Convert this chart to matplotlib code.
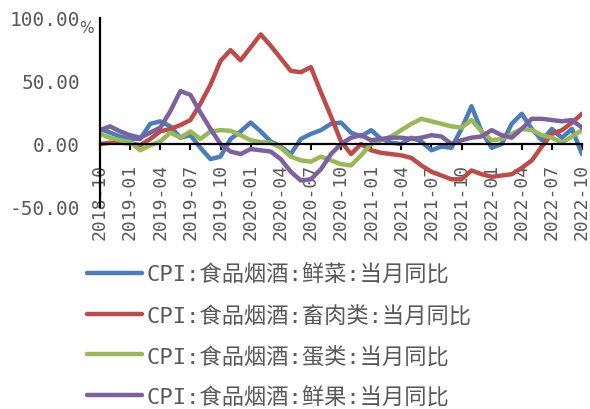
import numpy as np
import pandas as pd
import matplotlib
matplotlib.use("Agg")
import matplotlib.pyplot as plt
from matplotlib.font_manager import FontProperties

# monthly categories 2018-10 .. 2022-10
months = pd.date_range("2018-10-01", "2022-10-01", freq="MS").strftime("%Y-%m").tolist()

# CPI sub-items, year-on-year (%)
veg = [12, 9, 6, 4, 4, 16, 18, 14, 5, 7, -3, -12, -10, 4, 10, 17, 10, 2, -2, -8,
       4, 8, 11, 16, 17, 9, 6, 11, 4, 1, 0, 5, 2, -5, -2, -3, 12, 30, 10, -3,
       0, 16, 24, 12, 3, 12, 5, 12, -8]
meat = [0, 1, 1, 0.5, -1, 4, 10, 12, 15, 19, 32, 47, 66, 74.5, 66.4, 76.7, 87, 78, 68, 58,
        57, 61, 41, 22, 2, -8, 0, -5, -7, -8, -9, -11, -17, -22, -25, -28, -28, -21, -24, -26,
        -25, -24, -19, -13, -2, 8, 11, 17, 24]
eggs = [8, 5, 3, 1.5, -5, -1, 2, 9, 5, 10, 4, 10, 11, 10.5, 7, 3, 1.5, 1, -3, -10,
        -13, -14, -10, -13, -16, -17, -9, 0, 3, 6, 11, 16, 20, 18, 16, 14, 13, 19, 10, 3,
        4, 8, 12, 11, 7, 5, 1, 6, 11]
fruit = [11, 14, 10, 7, 5, 9, 13, 26, 42, 39, 25, 12, 0, -6, -8, -4, -5, -6, -12, -22,
         -29, -28, -20, -8, 0, 5, 7, 3, 4, 5, 5, 4, 5, 7, 6, 0, 3, 5, 6, 11,
         7, 5, 12, 20, 20, 19, 18, 19, 13]

labels = ["CPI:食品烟酒:鲜菜:当月同比",
          "CPI:食品烟酒:畜肉类:当月同比",
          "CPI:食品烟酒:蛋类:当月同比",
          "CPI:食品烟酒:鲜果:当月同比"]
colors = ["#4A7EBB", "#BE4B48", "#98B954", "#7D60A0"]
yticks = [-50, 0, 50, 100]

grey = "#595959"
mono = ["DejaVu Sans Mono"]
cjk_font = FontProperties(family=["DejaVu Sans Mono", "Noto Sans CJK SC"], size=16,
                          weight="light")

fig = plt.figure(figsize=(5.9, 4.1), dpi=100)
ax = fig.add_axes([100 / 590, (410 - 208) / 410, 482 / 590, 189 / 410])

x = np.arange(len(months))
lines = []
for series, c in zip([veg, meat, eggs, fruit], colors):
    ln, = ax.plot(x, series, color=c, lw=3.2, solid_joinstyle="round",
                  solid_capstyle="round")
    lines.append(ln)

ax.set_xlim(0, len(months) - 1)
ax.set_ylim(-50, 100)

for s in ["top", "right"]:
    ax.spines[s].set_visible(False)
ax.spines["bottom"].set_position(("data", 0))
ax.spines["bottom"].set_linewidth(1.6)
ax.spines["left"].set_linewidth(1.6)

ax.set_xticks(x[::3])
ax.set_xticklabels(months[::3], rotation=90)
ax.tick_params(axis="x", direction="out", length=4.3, width=1.5, pad=9, colors="black",
               labelcolor=grey)
for t in ax.get_xticklabels():
    t.set_fontproperties(FontProperties(family=mono, size=13))

ax.set_yticks(yticks)
ax.set_yticklabels(["%.2f" % v for v in yticks])
ax.tick_params(axis="y", length=0, pad=14.4, labelcolor=grey)
for t in ax.get_yticklabels():
    t.set_fontproperties(FontProperties(family=mono, size=14))

fig.text(79 / 590, 1 - 33 / 410, "%", color=grey, fontsize=11)

ax.legend(lines, labels, loc="upper left", bbox_to_anchor=(87 / 590, 1 - 264 / 410),
          bbox_transform=fig.transFigure, frameon=False, prop=cjk_font,
          labelcolor=grey, handlelength=2.48, handletextpad=0.18, labelspacing=0.88,
          borderpad=0, borderaxespad=0)

fig.savefig("out.png", dpi=100)
